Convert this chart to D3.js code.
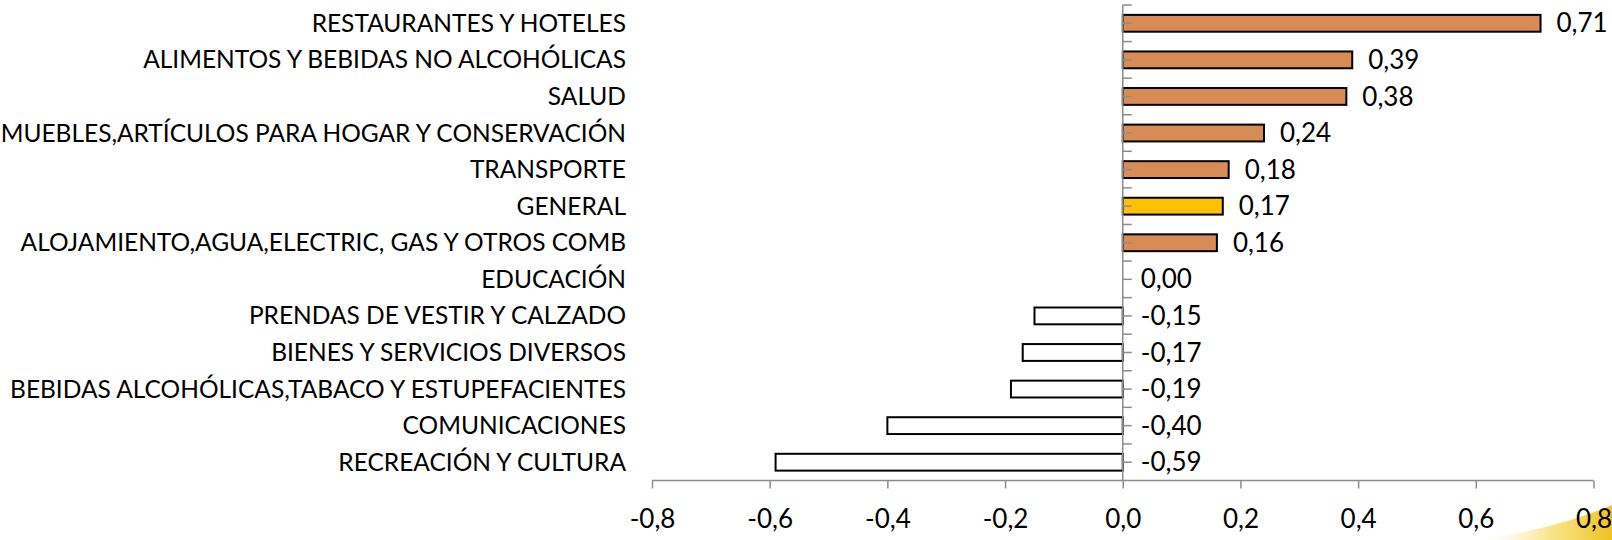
<!DOCTYPE html>
<html>
<head>
<meta charset="utf-8">
<script src="https://cdn.jsdelivr.net/npm/d3@7"></script>
<style>
  body { margin:0; background:#fff; }
  svg text { font-family: Lato, "Noto Sans", sans-serif; fill:#000; }
</style>
</head>
<body>
<div id="chart"></div>
<script>

// Data

var categories = [
	"RESTAURANTES Y HOTELES",
	"ALIMENTOS Y BEBIDAS NO ALCOHÓLICAS",
	"SALUD",
	"MUEBLES,ARTÍCULOS PARA HOGAR Y CONSERVACIÓN",
	"TRANSPORTE",
	"GENERAL",
	"ALOJAMIENTO,AGUA,ELECTRIC, GAS Y OTROS COMB",
	"EDUCACIÓN",
	"PRENDAS DE VESTIR Y CALZADO",
	"BIENES Y SERVICIOS DIVERSOS",
	"BEBIDAS ALCOHÓLICAS,TABACO Y ESTUPEFACIENTES",
	"COMUNICACIONES",
	"RECREACIÓN Y CULTURA"
];
var values = [0.71, 0.39, 0.38, 0.24, 0.18, 0.17, 0.16, 0.00, -0.15, -0.17, -0.19, -0.40, -0.59];
var xTicks = [-0.8, -0.6, -0.4, -0.2, 0.0, 0.2, 0.4, 0.6, 0.8];
var highlight = "GENERAL";


// Setup

var width = 1612,
	height = 540;

var es = d3.formatLocale({decimal:",", thousands:".", grouping:[3], currency:["",""], minus:"-"});
var fmtTick = es.format(".1f"),
	fmtVal = es.format(".2f");

var svg = d3.select("#chart").append("svg")
	.attr("width",width)
	.attr("height",height);

var rows = categories.map(function(c,i){ return {cat:c, v:values[i]}; });

var X = d3.scaleLinear().domain([-0.8,0.8]).range([652,1593.5]);
var Y = d3.scaleBand().domain(categories).range([5,480.5]).paddingInner(0.54).paddingOuter(0.27);
var band = (480.5-5)/categories.length;
var axisY = 480.5;


// background swoosh (bottom right corner)

var grad = svg.append("defs").append("linearGradient").attr("id","sw")
	.attr("x1","0").attr("y1","0").attr("x2","1").attr("y2","0");
grad.append("stop").attr("offset","0%").attr("stop-color","#fff6c8").attr("stop-opacity",0);
grad.append("stop").attr("offset","55%").attr("stop-color","#f7dc6a").attr("stop-opacity",0.8);
grad.append("stop").attr("offset","100%").attr("stop-color","#efc21e");

svg.append("path")
	.attr("d","M1480,540 C1535,532 1582,518 1612,505 L1612,540 Z")
	.attr("fill","url(#sw)");


// Bars

svg.selectAll(".bar").data(rows).enter().append("rect")
	.attr("class","bar")
	.attr("x",function(d){ return X(Math.min(0,d.v)); })
	.attr("y",function(d){ return Y(d.cat); })
	.attr("width",function(d){ return Math.abs(X(d.v)-X(0)); })
	.attr("height",Y.bandwidth())
	.style("fill",function(d){
		if (d.cat==highlight) return "#ffc000";
		return d.v>0 ? "#d78b55" : "#ffffff";
	})
	.style("stroke","#000")
	.style("stroke-width",2);


// Axes

var gx = svg.append("g").attr("transform","translate(0,"+axisY+")")
	.call(d3.axisBottom(X).tickValues(xTicks).tickFormat(fmtTick).tickSize(8).tickPadding(30));
gx.selectAll("path, line").style("stroke","#8c8c8c").style("stroke-width",1.5);
gx.select(".domain").attr("d","M"+X(-0.8)+",0H"+X(0.8));
gx.selectAll("text").style("font-size","26px").attr("dy","0.35em")
	.style("font-family","Lato, 'Noto Sans', sans-serif").style("fill","#000");

var yAxis = svg.append("g");
yAxis.append("line")
	.attr("x1",X(0)).attr("x2",X(0))
	.attr("y1",5).attr("y2",axisY)
	.style("stroke","#8c8c8c").style("stroke-width",1.5);
yAxis.selectAll(".ytick").data(d3.range(categories.length*2)).enter().append("line")
	.attr("class","ytick")
	.attr("x1",X(0)).attr("x2",X(0)+9)
	.attr("y1",function(k){ return 5+k*band/2; })
	.attr("y2",function(k){ return 5+k*band/2; })
	.style("stroke","#8c8c8c").style("stroke-width",1.5);


// Labels

svg.selectAll(".cat").data(rows).enter().append("text")
	.attr("class","cat")
	.attr("x",626)
	.attr("y",function(d){ return Y(d.cat)+Y.bandwidth()/2; })
	.attr("dy","0.35em")
	.attr("text-anchor","end")
	.style("font-size","24.5px")
	.text(function(d){ return d.cat; });

svg.selectAll(".val").data(rows).enter().append("text")
	.attr("class","val")
	.attr("x",function(d){ return d.v>0 ? X(d.v)+16 : X(0)+18; })
	.attr("y",function(d){ return Y(d.cat)+Y.bandwidth()/2; })
	.attr("dy","0.35em")
	.style("font-size","26px")
	.text(function(d){ return fmtVal(d.v); });

</script>
</body>
</html>
